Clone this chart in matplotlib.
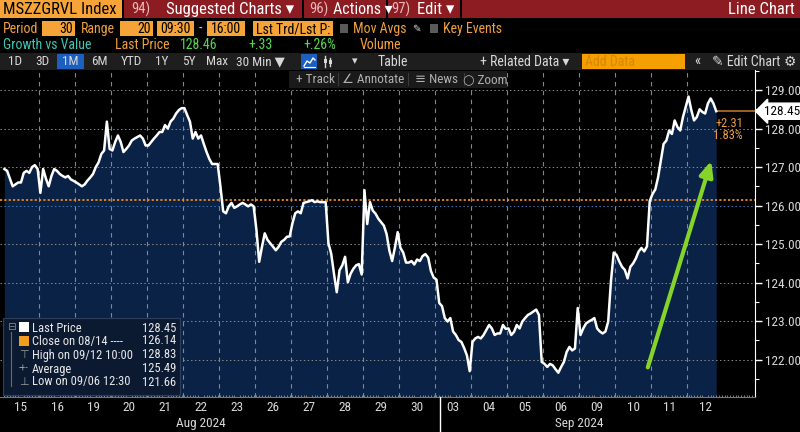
import matplotlib
matplotlib.use("Agg")
import numpy as np
import matplotlib.pyplot as plt
from matplotlib import font_manager
from matplotlib.patches import Rectangle
from matplotlib.lines import Line2D
import matplotlib.transforms as mtransforms

# trading days shown on the x axis
days = ["15", "16", "19", "20", "21", "22", "23", "26", "27", "28", "29", "30",
        "03", "04", "05", "06", "09", "10", "11", "12"]

# 30 min closes, one list per day
d15 = [126.95, 126.90, 126.70, 126.50, 126.55, 126.60, 126.60, 126.85, 126.90, 126.85, 127.00, 127.05, 126.95]
d16 = [126.33, 126.95, 126.70, 126.50, 126.77, 126.95, 126.90, 126.82, 126.77, 126.73, 126.77, 126.68, 126.64]
d19 = [126.60, 126.55, 126.50, 126.55, 126.65, 126.73, 126.82, 127.00, 127.12, 127.34, 127.43, 128.18, 127.47]
d20 = [127.43, 127.65, 127.82, 127.65, 127.39, 127.47, 127.56, 127.69, 127.74, 127.78, 127.82, 127.74, 127.56]
d21 = [127.56, 127.65, 127.74, 127.82, 127.91, 127.91, 128.09, 128.00, 128.18, 128.26, 128.39, 128.48, 128.53]
d22 = [128.53, 128.35, 128.18, 127.74, 127.91, 127.74, 127.82, 127.60, 127.39, 127.21, 127.08, 127.08, 127.08]
d23 = [126.50, 125.85, 125.80, 125.98, 126.07, 125.94, 125.98, 126.03, 126.07, 126.03, 125.98, 126.03, 125.98]
d26 = [125.37, 124.54, 124.93, 125.28, 125.11, 125.02, 124.93, 124.84, 124.93, 125.06, 125.11, 125.19, 125.20]
d27 = [125.54, 125.80, 125.85, 125.80, 126.07, 126.09, 126.11, 126.14, 126.09, 126.11, 126.09, 126.09, 126.09]
d28 = [125.02, 124.75, 124.23, 123.75, 124.32, 124.45, 124.67, 124.01, 124.23, 124.36, 124.45, 124.48, 124.21]
d29 = [126.40, 125.52, 126.09, 125.87, 125.79, 125.66, 125.57, 125.48, 125.26, 124.83, 124.56, 124.91, 125.31]
d30 = [124.90, 124.78, 124.52, 124.52, 124.56, 124.47, 124.60, 124.56, 124.69, 124.74, 124.65, 124.30, 124.13]
d03 = [124.08, 123.47, 123.39, 123.08, 122.99, 123.08, 122.73, 122.64, 122.51, 122.46, 122.30, 122.11, 121.70]
d04 = [122.46, 122.55, 122.59, 122.55, 122.64, 122.77, 122.90, 122.81, 122.64, 122.68, 122.68, 122.90, 122.80]
d05 = [122.81, 122.64, 122.72, 122.90, 122.81, 122.99, 123.08, 123.16, 123.20, 123.25, 123.30, 123.16, 121.94]
d06 = [121.89, 121.81, 121.89, 121.85, 121.75, 121.66, 121.81, 121.94, 122.20, 122.33, 122.24, 122.29, 123.34]
d09 = [122.64, 122.81, 122.94, 122.99, 123.03, 123.08, 122.81, 122.73, 122.68, 122.73, 122.99, 124.04, 124.78]
d10 = [124.72, 124.55, 124.41, 124.33, 124.11, 124.41, 124.50, 124.63, 124.81, 124.90, 124.81, 124.94, 126.12]
d11 = [126.30, 126.42, 126.73, 127.17, 127.60, 127.69, 127.95, 127.86, 128.21, 128.04, 127.95, 128.30, 128.56]
d12 = [128.83, 128.48, 128.21, 128.30, 128.50, 128.43, 128.39, 128.65, 128.78, 128.65, 128.45]

close_0814 = 126.14
last_price = 128.45
high_val = 128.83
avg_val = 125.49
low_val = 121.66
y_ticks = [122, 123, 124, 125, 126, 127, 128, 129]

BARS_PER_DAY = 13

prices = np.array(d15 + d16 + d19 + d20 + d21 + d22 + d23 + d26 + d27 + d28 + d29 + d30
                  + d03 + d04 + d05 + d06 + d09 + d10 + d11 + d12)
x = np.arange(len(prices))

# narrow font if one is around, terminal fonts are condensed
narrow = None
for fam in ["Liberation Sans Narrow", "Roboto Condensed", "Open Sans Condensed"]:
    try:
        font_manager.findfont(font_manager.FontProperties(family=fam), fallback_to_default=False)
        narrow = fam
        break
    except ValueError:
        pass
if narrow:
    plt.rcParams["font.family"] = [narrow, "DejaVu Sans"]
    SC = 1.0
else:
    plt.rcParams["font.family"] = ["DejaVu Sans"]
    SC = 0.86

# colours
ORANGE = "#f6a437"
ORANGE_TXT = "#f0a040"
RED = "#8d1c22"
GREEN = "#55d84f"
TEAL = "#3fc7b0"
NAVY = "#0a2245"
BAR_BG = "#1e1e1e"
LIGHT = "#d8d8d8"

W, H = 800, 432
fig = plt.figure(figsize=(W / 100, H / 100), dpi=100, facecolor="black")


# helpers working in screen pixels (origin top left)
def fx(px):
    return px / W


def fy(py):
    return 1 - py / H


def box(x0, y0, w, h, color, ec="none", lw=0.8):
    fig.patches.append(Rectangle((fx(x0), fy(y0 + h)), w / W, h / H, transform=fig.transFigure,
                                 facecolor=color, edgecolor=ec, lw=lw, figure=fig))


def txt(px, py, s, color="white", size=9.5, ha="left", **kw):
    fig.text(fx(px), fy(py), s, color=color, fontsize=size * SC, ha=ha, va="center", **kw)


def seg(xs, ys, color, lw=1):
    fig.lines.append(Line2D([fx(v) for v in xs], [fy(v) for v in ys], transform=fig.transFigure,
                            color=color, lw=lw, figure=fig))


# ---------------- main plot ----------------
ax = fig.add_axes([0, fy(397), 755 / W, (397 - 70) / H])
ax.set_facecolor("black")
ax.set_xlim(-1.58, 271.0)
ax.set_ylim(121.03, 129.52)

ax.fill_between(x, prices, 121.03, color=NAVY, lw=0, zorder=1)

# grid on top of the fill
for k in range(1, len(days)):
    ax.axvline(k * BARS_PER_DAY - 0.5, color="#7d8796", lw=0.8, ls=(0, (4, 4)), zorder=2)
for v in y_ticks:
    gcol = "#3f78b8" if v == 126 else "#8a8a8a"
    ax.axhline(v, color=gcol, lw=0.7, ls=(0, (1.5, 2.5)), zorder=2)

ax.axhline(close_0814, color="#ea8a22", lw=1.3, ls=(0, (1.2, 1.2)), zorder=3)
ax.plot(x, prices, color="white", lw=1.8, zorder=4, solid_joinstyle="round")
ax.plot([x[-1], 271.0], [last_price, last_price], color="#b8702a", lw=1.2, zorder=3)

# green trend arrow
ax.annotate("", xy=(255.5, 127.23), xytext=(232.0, 121.73),
            arrowprops=dict(arrowstyle="-|>,head_length=0.9,head_width=0.4",
                            color="#86d42a", lw=3), zorder=5)

# axes styling
for s in ["left", "top"]:
    ax.spines[s].set_visible(False)
ax.spines["right"].set_color("white")
ax.spines["bottom"].set_color("#777777")
ax.yaxis.tick_right()
ax.set_yticks(y_ticks, [f"{v:.2f}" for v in y_ticks])
ax.set_yticks(np.arange(121.5, 129.6, 1.0), minor=True)
ax.tick_params(axis="y", which="major", colors="white", labelcolor=LIGHT, labelsize=9.5 * SC,
               length=5, width=1, pad=2)
ax.tick_params(axis="y", which="minor", colors="white", length=3, width=0.8)

centers = [k * BARS_PER_DAY + 6 for k in range(len(days))]
ax.set_xticks(centers, days)
ax.set_xticks(np.arange(0, 271, 1), minor=True)
ax.tick_params(axis="x", which="major", length=0, labelcolor=LIGHT, labelsize=9.5 * SC, pad=3)
ax.tick_params(axis="x", which="minor", length=1.5, color="#999999", direction="in")

# month labels under the day ticks
trans = mtransforms.blended_transform_factory(ax.transData, fig.transFigure)
ax.text(5 * BARS_PER_DAY + 6, fy(423), "Aug 2024", transform=trans, color=LIGHT,
        fontsize=9.5 * SC, ha="center", va="center")
ax.text(15.5 * BARS_PER_DAY + 6, fy(423), "Sep 2024", transform=trans, color=LIGHT,
        fontsize=9.5 * SC, ha="center", va="center")
seg([440, 440], [397, 432], "white", lw=1)

# last price tag on the axis
ytrans = mtransforms.blended_transform_factory(ax.transAxes, ax.transData)
ax.text(1.012, last_price, "128.45", transform=ytrans, color="black", fontsize=9.5 * SC,
        ha="left", va="center", clip_on=False,
        bbox=dict(boxstyle="larrow,pad=0.12", fc="white", ec="white"))
ax.text(0.984, last_price - 0.32, "+2.31", transform=ytrans, color=ORANGE_TXT,
        fontsize=9 * SC, ha="right", va="center")
ax.text(0.984, last_price - 0.62, "1.83%", transform=ytrans, color=ORANGE_TXT,
        fontsize=9 * SC, ha="right", va="center")

# ---------------- header rows ----------------
box(0, 0, 122, 18, ORANGE)
txt(3, 9.5, "MSZZGRVL Index", color="black", size=12)
box(124, 0, 676, 18, RED)
for sp in [302, 386, 460]:
    box(sp, 0, 2, 18, "black")
txt(131, 9.5, "94)", color="#e8b8b8", size=10.5)
txt(166, 9.5, "Suggested Charts ▾", color="white", size=12)
txt(309, 9.5, "96)", color="#e8b8b8", size=10.5)
txt(333, 9.5, "Actions ▾", color="white", size=11.5)
txt(391, 9.5, "97)", color="#e8b8b8", size=10.5)
txt(417, 9.5, "Edit ▾", color="white", size=12)
txt(795, 9.5, "Line Chart", color="white", size=12, ha="right")

# period / range row
txt(3, 29, "Period", color=ORANGE_TXT, size=10)
box(42, 21, 33, 15, ORANGE)
txt(73, 29, "30", color="black", size=10, ha="right")
txt(81, 29, "Range", color=ORANGE_TXT, size=10)
box(120, 21, 33, 15, ORANGE)
txt(151, 29, "20", color="black", size=10, ha="right")
box(157, 21, 37, 15, ORANGE)
txt(175.5, 29, "09:30", color="black", size=10, ha="center")
txt(200, 29, "-", color=LIGHT, size=10, ha="center")
box(207, 21, 38, 15, ORANGE)
txt(226, 29, "16:00", color="black", size=10, ha="center")
box(253, 21, 80, 15, ORANGE)
txt(256, 29, "Lst Trd/Lst P:", color="black", size=10)
box(340, 24, 8, 9, "#5a5a5a")
txt(353, 29, "Mov Avgs", color=ORANGE_TXT, size=10)
txt(416, 29, "✎", color=LIGHT, size=7.5, ha="center")
box(430, 24, 8, 9, "#5a5a5a")
txt(443, 29, "Key Events", color=ORANGE_TXT, size=10)

# growth vs value row
txt(3, 45, "Growth vs Value", color=TEAL, size=10)
txt(115, 45, "Last Price", color=ORANGE_TXT, size=10)
txt(180, 45, "128.46", color=GREEN, size=10)
txt(248, 45, "+.33", color=GREEN, size=10)
txt(303, 45, "+.26%", color=GREEN, size=10)
txt(360, 45, "Volume", color=ORANGE_TXT, size=10)

# toolbar
box(0, 53, 800, 17, BAR_BG)
box(57, 54, 27, 15, "#1d5fbf")
for lab, cx in [("1D", 15), ("3D", 42), ("1M", 70), ("6M", 99), ("YTD", 131),
                ("1Y", 162), ("5Y", 189), ("Max", 217), ("30 Min ▼", 260)]:
    txt(cx, 61.5, lab, color=LIGHT, size=9.5, ha="center")
# line chart icon (blue) and bar chart icon
box(301, 54, 16, 15, "#1d5fbf")
seg([304, 307, 310, 313, 315], [66, 61, 63, 58, 60], "white", lw=1)
seg([304, 315], [67, 67], "white", lw=0.8)
seg([325, 325], [56, 67], LIGHT, lw=1)
seg([330, 330], [58, 66], LIGHT, lw=1)
box(323.5, 59, 3, 4, LIGHT)
box(328.5, 60, 3, 4, LIGHT)
txt(355, 61.5, "▾", color=LIGHT, size=8, ha="center")
txt(393, 61.5, "Table", color=LIGHT, size=10, ha="center")
txt(525, 61.5, "+ Related Data ▾", color=LIGHT, size=10, ha="center")
box(582, 54, 103, 15, "#f5a000")
txt(585, 61.5, "Add Data", color="#d98600", size=10)
txt(697, 61.5, "«", color=LIGHT, size=10.5, ha="center")
txt(746, 61.5, "✎ Edit Chart", color=LIGHT, size=10, ha="center")
txt(790, 61.5, "⚙", color=LIGHT, size=10, ha="center")

# track / annotate bar over the plot
box(289, 71, 218, 17, "#1a1a1a")
for sp in [338, 408, 464]:
    box(sp, 73, 1, 13, "#3a3a3a")
txt(315, 79.5, "+ Track", color="#b0b0b0", size=9.5, ha="center")
txt(373, 79.5, "∠ Annotate", color="#b0b0b0", size=9.5, ha="center")
txt(436, 79.5, "≡ News", color="#b0b0b0", size=9.5, ha="center")
txt(485, 79.5, "○ Zoom", color="#b0b0b0", size=9.5, ha="center")

# ---------------- legend box ----------------
box(3, 318, 177, 77, "#0c1a31", ec="#2f3e58")
txt(11, 327, "⊟", color="#8a8a8a", size=7.5, ha="center")
seg([11, 11], [332, 386], "#6a6a6a", lw=0.8)
box(19, 322, 10, 10, "white")
box(19, 336, 10, 10, "#f39c1e")
legend_rows = [(328, "Last Price", last_price),
               (341, "Close on 08/14 ----", close_0814),
               (355, "High on 09/12 10:00", high_val),
               (369, "Average", avg_val),
               (382, "Low on 09/06 12:30", low_val)]
for ry, lab, val in legend_rows:
    txt(32, ry, lab, color="#e8e8e8", size=9)
    txt(176, ry, f"{val:.2f}", color="#e8e8e8", size=9, ha="right")
txt(24, 355, "⊤", color="#9a9a9a", size=8, ha="center")
txt(24, 369, "-+-", color="#9a9a9a", size=7, ha="center")
txt(24, 382, "⊥", color="#9a9a9a", size=8, ha="center")

fig.savefig("out.png", dpi=100, facecolor="black")
